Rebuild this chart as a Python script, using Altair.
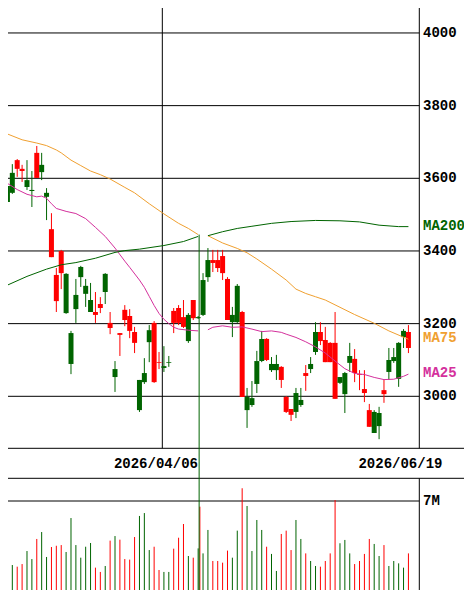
import altair as alt
import pandas as pd

# ---------------- data ----------------
opens = [3579, 3615, 3626, 3620, 3595, 3568, 3601, 3637, 3560, 3383,
         3262, 3339, 3337, 3174, 3279, 3356, 3304, 3265, 3224, 3243,
         3337, 3188, 3075, 3169, 3210, 3180, 3147, 3045, 3064, 3182,
         3039, 3092, 3083, 3094, 3202, 3202, 3191, 3224, 3215, 3218,
         3320, 3375, 3367, 3353, 3339, 3210, 3224, 3304, 2998, 2998,
         2995, 3097, 3158, 3100, 3089, 3089, 3045, 2957, 2949, 3009,
         2990, 3056, 3089, 3177, 3152, 3094, 3094, 2993, 3053, 3064,
         3111, 3064, 3059, 3009, 2916, 2957, 2954, 3006, 3100, 3108,
         3147, 3180, 3133]
closes = [3535, 3560, 3650, 3626, 3576, 3565, 3670, 3617, 3549, 3460,
          3334, 3400, 3229, 3089, 3240, 3328, 3282, 3232, 3232, 3254,
          3287, 3202, 3053, 3174, 3238, 3221, 3177, 2962, 3039, 3149,
          3202, 3094, 3078, 3092, 3235, 3243, 3218, 3152, 3265, 3215,
          3224, 3328, 3375, 3375, 3386, 3323, 3204, 3204, 3232, 2962,
          2976, 3034, 3097, 3158, 3072, 3072, 3081, 2998, 2965, 2957,
          2976, 3064, 3075, 3122, 3177, 3155, 3147, 3147, 3037, 3006,
          3092, 3103, 3061, 3020, 2962, 2899, 2918, 3017, 3067, 3097,
          3048, 3163, 3177]
highs = [3582, 3639, 3653, 3637, 3650, 3620, 3689, 3670, 3573, 3504,
         3353, 3403, 3339, 3180, 3323, 3359, 3323, 3312, 3287, 3273,
         3339, 3232, 3097, 3174, 3251, 3240, 3191, 3045, 3105, 3196,
         3207, 3122, 3138, 3111, 3243, 3251, 3265, 3229, 3265, 3221,
         3339, 3408, 3403, 3403, 3403, 3328, 3246, 3309, 3235, 3023,
         3042, 3125, 3180, 3160, 3108, 3114, 3083, 3001, 2965, 3023,
         3023, 3086, 3108, 3204, 3204, 3191, 3149, 3232, 3053, 3067,
         3147, 3130, 3072, 3072, 2979, 2962, 2971, 3045, 3133, 3133,
         3149, 3185, 3196]
lows = [3529, 3557, 3604, 3590, 3568, 3521, 3601, 3595, 3485, 3383,
        3232, 3295, 3227, 3061, 3202, 3301, 3246, 3232, 3202, 3229,
        3254, 3171, 3012, 3111, 3193, 3160, 3119, 2957, 3034, 3094,
        3037, 3075, 3067, 3081, 3174, 3196, 3188, 3147, 3210, 3213,
        3221, 3315, 3342, 3342, 3320, 3210, 3163, 3202, 2998, 2913,
        2971, 3009, 3094, 3097, 3067, 3045, 3023, 2954, 2932, 2940,
        2971, 3015, 3064, 3114, 3141, 3094, 3094, 2993, 3034, 2954,
        3067, 3039, 3017, 2984, 2916, 2899, 2882, 2982, 3045, 3092,
        3026, 3133, 3119]
volumes_m = [2.38, 2.38, 2.26, 2.45, 3.39, 2.81, 4.26, 4.76, 2.96, 3.68,
             3.77, 3.82, 3.32, 5.77, 3.82, 2.91, 3.70, 3.97, 2.19, 1.88,
             2.31, 4.14, 4.47, 4.21, 2.81, 2.77, 4.40, 5.92, 6.13, 3.46,
             3.70, 2.02, 1.88, 1.88, 3.56, 4.35, 5.34, 3.03, 2.91, 3.58,
             3.22, 4.91, 2.67, 2.67, 2.55, 3.42, 2.91, 4.86, 7.92, 6.64,
             3.39, 5.63, 4.91, 3.70, 3.18, 1.95, 4.62, 4.86, 3.46, 5.63,
             4.26, 3.22, 2.67, 2.31, 2.26, 2.67, 3.22, 7.07, 3.95, 4.19,
             3.22, 2.45, 2.67, 3.18, 4.26, 3.90, 3.03, 3.82, 2.31, 2.67,
             2.50, 2.19, 3.22]

ma_gap_day = 40
ma25_days = [0, 2, 4, 6, 7, 8, 9, 10, 12, 14, 16, 18, 20, 22, 24, 25, 27, 28, 29, 30,
             31, 32, 33, 34, 35, 37, 39,
             41, 42, 44, 46, 48, 50, 52, 54, 56, 57, 59, 61, 63, 65, 67, 69, 71, 73,
             75, 77, 79, 81, 82]
ma25_vals = [3586, 3569, 3556, 3549, 3551, 3545, 3530, 3517, 3509, 3503, 3489, 3465, 3440,
             3408, 3372, 3355, 3320, 3300, 3275, 3250, 3228, 3212, 3200, 3190, 3185, 3182,
             3180,
             3183, 3190, 3194, 3190, 3191, 3185, 3178, 3180, 3176, 3171, 3162, 3150, 3136,
             3119, 3097, 3076, 3063, 3060, 3052, 3046, 3047, 3055, 3061]
ma75_days = [0, 3, 6, 8, 10, 11, 13, 15, 17, 19, 21, 24, 26, 29, 32, 35, 37, 39,
             41, 44, 47, 49, 51, 54, 57, 59, 61, 63, 65, 68, 71, 75, 78, 82]
ma75_vals = [3722, 3706, 3697, 3690, 3678, 3670, 3650, 3635, 3620, 3610, 3598, 3575, 3560,
             3530, 3502, 3476, 3462, 3445,
             3442, 3422, 3407, 3395, 3378, 3350, 3320, 3295, 3283, 3274, 3265, 3245, 3225,
             3201, 3180, 3157]
ma200_days = [0, 4, 8, 11, 14, 18, 22, 24, 27, 32, 36, 39,
              41, 44, 47, 50, 54, 58, 63, 68, 72, 76, 80, 82]
ma200_vals = [3306, 3330, 3350, 3362, 3368, 3380, 3396, 3401, 3405, 3415, 3426, 3440,
              3442, 3453, 3462, 3468, 3476, 3481, 3484, 3483, 3480, 3471, 3467, 3467]

price_ticks = [3000, 3200, 3400, 3600, 3800, 4000]
price_tick_labels = ["3000", "3200", "3400", "3600", "3800", "4000"]
vol_ticks = [7]
vol_tick_labels = ["7M"]
date_labels = ["2026/04/06", "2026/06/19"]
date_days = [32, 82]

# anomalous record between day 39 and day 40
glitch_day = 39.2
glitch_top = 3445
glitch_vol = 6.59

# ---------------- style / layout ----------------
W, H = 456, 582
RED = "#ff0000"
GREEN = "#006400"
C_MA25 = "#d4309c"
C_MA75 = "#f0a030"
C_MA200 = "#006400"
FONT = "Liberation Mono"
FS = 14
LAB_X = 415
PANEL_R = 411.3      # right border of plot panels
PRICE_BOTTOM = 440.3  # bottom of price panel
VOL_TOP = 470.3       # top of volume panel

XS = alt.Scale(domain=[1.14, 92.34], nice=False, zero=False)
PS = alt.Scale(domain=[2466.9, 4068.7], nice=False, zero=False)
VS = alt.Scale(domain=[0.577, 42.58], nice=False, zero=False)

n = len(opens)
candles = pd.DataFrame({
    "day": list(range(n)), "open": opens, "close": closes,
    "high": highs, "low": lows, "vol": volumes_m,
})
candles["color"] = [RED if c >= o else GREEN for o, c in zip(opens, closes)]


def ma_frame(days, vals):
    return pd.DataFrame({"day": days, "v": vals,
                         "seg": [0 if d < ma_gap_day else 1 for d in days]})


ma25 = ma_frame(ma25_days, ma25_vals)
ma75 = ma_frame(ma75_days, ma75_vals)
ma200 = ma_frame(ma200_days, ma200_vals)

X = alt.X("day:Q", scale=XS, axis=None)
COL = alt.Color("color:N", scale=None)
TXT = dict(align="left", baseline="middle", font=FONT, fontSize=FS, fontWeight="bold")

# grid and frame
ptick = pd.DataFrame({"p": price_ticks, "t": price_tick_labels})
grid_price = alt.Chart(ptick).mark_rule(color="black", strokeWidth=1).encode(
    y=alt.Y("p:Q", scale=PS, axis=None), x=alt.value(0), x2=alt.value(PANEL_R))
lab_price = alt.Chart(ptick).mark_text(color="black", **TXT).encode(
    y=alt.Y("p:Q", scale=PS, axis=None), x=alt.value(LAB_X), text="t:N")

vtick = pd.DataFrame({"v": vol_ticks, "t": vol_tick_labels})
grid_vol = alt.Chart(vtick).mark_rule(color="black", strokeWidth=1).encode(
    y=alt.Y("v:Q", scale=VS, axis=None), x=alt.value(0), x2=alt.value(PANEL_R))
lab_vol = alt.Chart(vtick).mark_text(color="black", **TXT).encode(
    y=alt.Y("v:Q", scale=VS, axis=None), x=alt.value(LAB_X), text="t:N")

dates = pd.DataFrame({"day": date_days, "t": date_labels})
date_grid = alt.Chart(dates.iloc[:1]).mark_rule(color="black", strokeWidth=1, xOffset=-1.6).encode(
    x=X, y=alt.value(0), y2=alt.value(PRICE_BOTTOM))
date_text = alt.Chart(dates).mark_text(
    align="center", baseline="middle", font=FONT, fontSize=FS, fontWeight="bold",
    color="black", dx=-8).encode(
    x=X, y=alt.value(456), text="t:N")

one = pd.DataFrame({"a": [0]})
sep1 = alt.Chart(one).mark_rule(color="black", strokeWidth=1).encode(
    x=alt.value(0), x2=alt.value(W), y=alt.value(PRICE_BOTTOM))
sep2 = alt.Chart(one).mark_rule(color="black", strokeWidth=1).encode(
    x=alt.value(0), x2=alt.value(W), y=alt.value(VOL_TOP))
border1 = alt.Chart(one).mark_rule(color="black", strokeWidth=1).encode(
    x=alt.value(PANEL_R), y=alt.value(0), y2=alt.value(PRICE_BOTTOM))
border2 = alt.Chart(one).mark_rule(color="black", strokeWidth=1).encode(
    x=alt.value(PANEL_R), y=alt.value(VOL_TOP), y2=alt.value(H))

# candles
wick = alt.Chart(candles).mark_rule(strokeWidth=1).encode(
    x=X, y=alt.Y("low:Q", scale=PS, axis=None), y2="high:Q", color=COL)
body = alt.Chart(candles).mark_bar(size=5).encode(
    x=X, y=alt.Y("open:Q", scale=PS, axis=None), y2="close:Q", color=COL)

# volume
vol = alt.Chart(candles).mark_rule(strokeWidth=1).encode(
    x=X, y=alt.Y("vol:Q", scale=VS, axis=None), y2=alt.datum(0), color=COL)
gl_vol = alt.Chart(pd.DataFrame({"day": [glitch_day + 0.15], "vol": [glitch_vol]})).mark_rule(
    strokeWidth=1, color=RED).encode(
    x=X, y=alt.Y("vol:Q", scale=VS, axis=None), y2=alt.datum(0))


def ma_line(df, color):
    return alt.Chart(df).mark_line(strokeWidth=1, color=color).encode(
        x=X, y=alt.Y("v:Q", scale=PS, axis=None), detail="seg:N")


l25 = ma_line(ma25, C_MA25)
l75 = ma_line(ma75, C_MA75)
l200 = ma_line(ma200, C_MA200)

ma_labels = pd.DataFrame({
    "t": ["MA200", "MA75", "MA25"],
    "v": [ma200_vals[-1], ma75_vals[-1], ma25_vals[-1]],
    "c": [C_MA200, C_MA75, C_MA25],
})
lab_ma = alt.Chart(ma_labels).mark_text(dy=-1, **TXT).encode(
    y=alt.Y("v:Q", scale=PS, axis=None), x=alt.value(LAB_X), text="t:N",
    color=alt.Color("c:N", scale=None))

gl_line = alt.Chart(pd.DataFrame({"day": [glitch_day], "v": [glitch_top]})).mark_rule(
    strokeWidth=1, color=GREEN).encode(
    x=X, y=alt.Y("v:Q", scale=PS, axis=None), y2=alt.value(H))

chart = alt.layer(
    grid_price, grid_vol, date_grid, sep1, sep2, border1, border2,
    vol, gl_vol, wick, body, l25, l75, l200,
    lab_price, lab_vol, lab_ma, date_text, gl_line,
).resolve_scale(y="independent").properties(
    width=W, height=H, padding=0,
    autosize=alt.AutoSizeParams(type="none"),
).configure_view(stroke=None)

chart.save("out.html", embed_options={"renderer": "svg", "actions": False})
